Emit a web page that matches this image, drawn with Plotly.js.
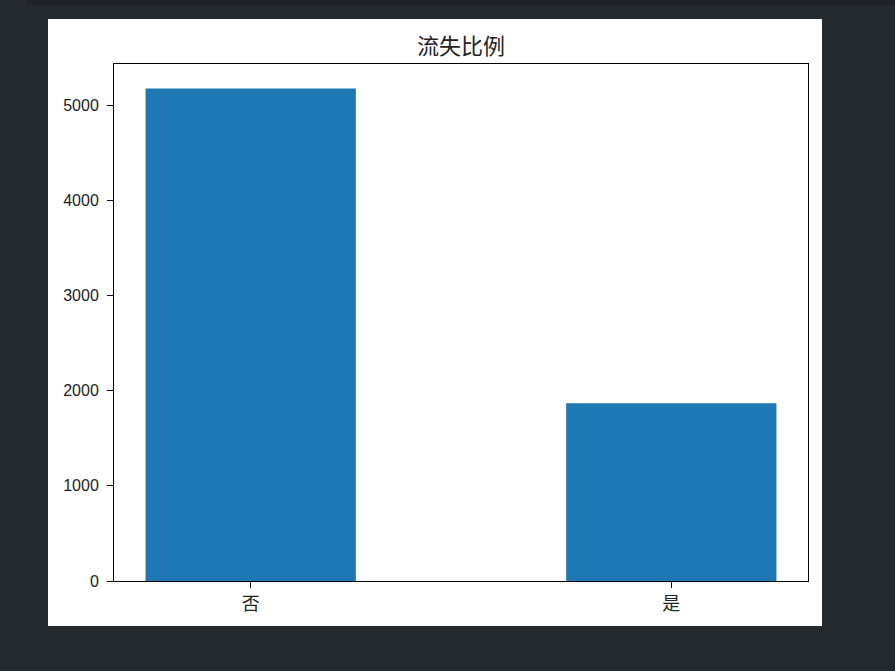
<!DOCTYPE html>
<html>
<head>
<meta charset="utf-8">
<script src="https://cdn.plot.ly/plotly-3.0.1.min.js"></script>
<style>
  html, body { margin: 0; padding: 0; background: #24292e; width: 895px; height: 671px; overflow: hidden; }
  #topbar { position: absolute; left: 26px; top: 0; width: 869px; height: 5px; background: #1f2327; }
  #chart { position: absolute; left: 48px; top: 19px; width: 774px; height: 607px; }
</style>
</head>
<body>
<div id="topbar"></div>
<div id="chart"></div>
<script>
// churn counts
const categories = ["否", "是"];
const counts = [5174, 1869];
const yTicks = [0, 1000, 2000, 3000, 4000, 5000];

const cjk = "'Noto Sans CJK SC', 'DejaVu Sans', sans-serif";
const num = "'Liberation Sans', Arial, sans-serif";

const data = [{
  type: "bar",
  x: [0, 1],
  y: counts,
  width: 0.5,
  marker: { color: "#1f77b4", line: { width: 0 } },
  hoverinfo: "skip"
}];

const layout = {
  width: 774,
  height: 607,
  margin: { l: 66, r: 14, t: 45, b: 45 },
  paper_bgcolor: "#ffffff",
  plot_bgcolor: "#ffffff",
  showlegend: false,
  font: { family: cjk, size: 12, color: "#000" },
  title: {
    text: "流失比例",
    font: { family: cjk, size: 22, color: "#222" },
    x: 0.5, xanchor: "center",
    xref: "paper",
    y: 1 - 27 / 607, yanchor: "middle"
  },
  xaxis: {
    range: [-0.325, 1.325],
    tickmode: "array",
    tickvals: [0, 1],
    ticktext: categories,
    ticks: "outside", ticklen: 6, tickwidth: 1, tickcolor: "#000",
    showline: true, linecolor: "#000", linewidth: 1, mirror: true,
    showgrid: false, zeroline: false,
    tickfont: { family: cjk, size: 18, color: "#222" }
  },
  yaxis: {
    range: [0, 5174 * 1.05],
    tickmode: "array",
    tickvals: yTicks,
    ticks: "outside", ticklen: 6, tickwidth: 1, tickcolor: "#000",
    showline: true, linecolor: "#000", linewidth: 1, mirror: true,
    showgrid: false, zeroline: false,
    ticklabelstandoff: 5,
    tickfont: { family: num, size: 16, color: "#222" }
  }
};

Plotly.newPlot("chart", data, layout, { displayModeBar: false, staticPlot: true });
</script>
</body>
</html>
